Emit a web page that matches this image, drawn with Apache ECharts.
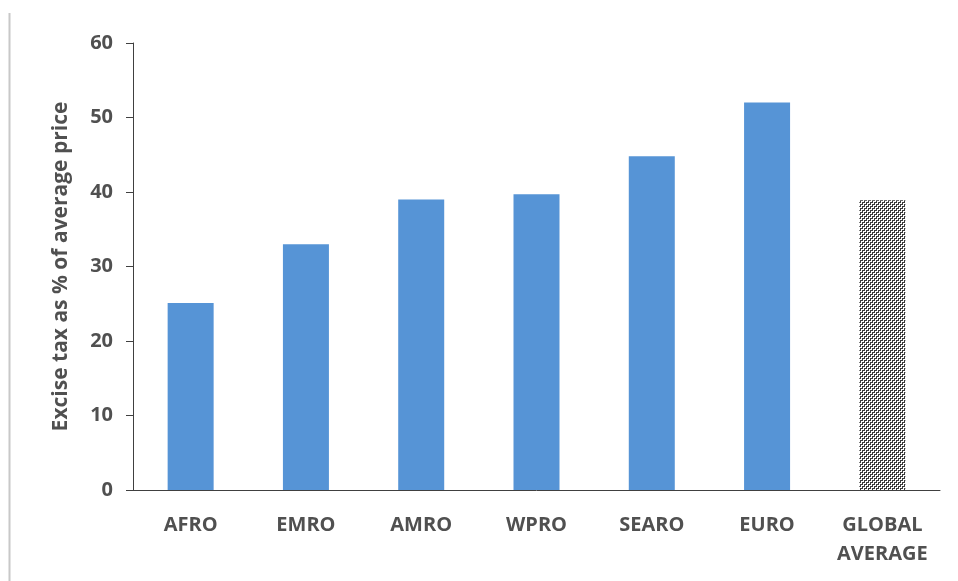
<!DOCTYPE html>
<html>
<head>
<meta charset="utf-8">
<script src="https://cdn.jsdelivr.net/npm/echarts@6/dist/echarts.min.js"></script>
<style>
html,body{margin:0;padding:0;background:#fff;}
#c{width:958px;height:581px;}
</style>
</head>
<body>
<div id="c"></div>
<script>
var categories = ['AFRO', 'EMRO', 'AMRO', 'WPRO', 'SEARO', 'EURO', 'GLOBAL\nAVERAGE'];
var values = [25.1, 33.0, 39.0, 39.7, 44.8, 52.0, 38.9];
var yTicks = [0, 10, 20, 30, 40, 50, 60];
var yAxisTitle = 'Excise tax as % of average price';

// dotted pattern for the global average bar
var pc = document.createElement('canvas');
pc.width = 4; pc.height = 4;
var pctx = pc.getContext('2d');
pctx.fillStyle = '#ffffff';
pctx.fillRect(0, 0, 4, 4);
pctx.fillStyle = '#3a3a3a';
pctx.fillRect(0, 0, 3, 1);
pctx.fillRect(0, 0, 1, 3);
pctx.fillRect(2, 2, 2, 1);
pctx.fillRect(2, 2, 1, 2);
pctx.fillRect(0, 2, 1, 1);
pctx.fillRect(2, 0, 1, 1);

var blue = '#5694D6';
var data = values.map(function (v, i) {
  if (i === values.length - 1) {
    return { value: v, itemStyle: { color: { image: pc, repeat: 'repeat' } } };
  }
  return { value: v, itemStyle: { color: blue } };
});

var textColor = '#505050';
var chart = echarts.init(document.getElementById('c'), null, { renderer: 'canvas' });
chart.setOption({
  animation: false,
  backgroundColor: '#ffffff',
  graphic: [{
    type: 'line',
    shape: { x1: 9.5, y1: 13, x2: 9.5, y2: 581 },
    style: { stroke: '#c8c8c8', lineWidth: 2 }
  }],
  grid: { left: 133, right: 18, top: 43, bottom: 91, containLabel: false },
  xAxis: {
    type: 'category',
    data: categories,
    axisLine: { show: true, lineStyle: { color: '#404040', width: 1 } },
    axisTick: { show: false },
    axisLabel: {
      color: textColor,
      fontFamily: 'Open Sans',
      fontWeight: 'bold',
      fontSize: 20,
      lineHeight: 29,
      margin: 21,
      interval: 0
    }
  },
  yAxis: {
    type: 'value',
    min: yTicks[0],
    max: yTicks[yTicks.length - 1],
    interval: 10,
    name: yAxisTitle,
    nameLocation: 'middle',
    nameGap: 61,
    nameRotate: 90,
    nameTextStyle: { color: textColor, fontFamily: 'Open Sans', fontWeight: 'bold', fontSize: 21 },
    axisLine: { show: true, lineStyle: { color: '#404040', width: 1 } },
    axisTick: { show: true, inside: false, length: 7, lineStyle: { color: '#404040' } },
    splitLine: { show: false },
    axisLabel: {
      color: textColor,
      fontFamily: 'Open Sans',
      fontWeight: 'bold',
      fontSize: 20,
      margin: 20
    }
  },
  series: [{
    type: 'bar',
    data: data,
    barWidth: 46,
    itemStyle: { color: blue }
  }]
});
</script>
</body>
</html>
